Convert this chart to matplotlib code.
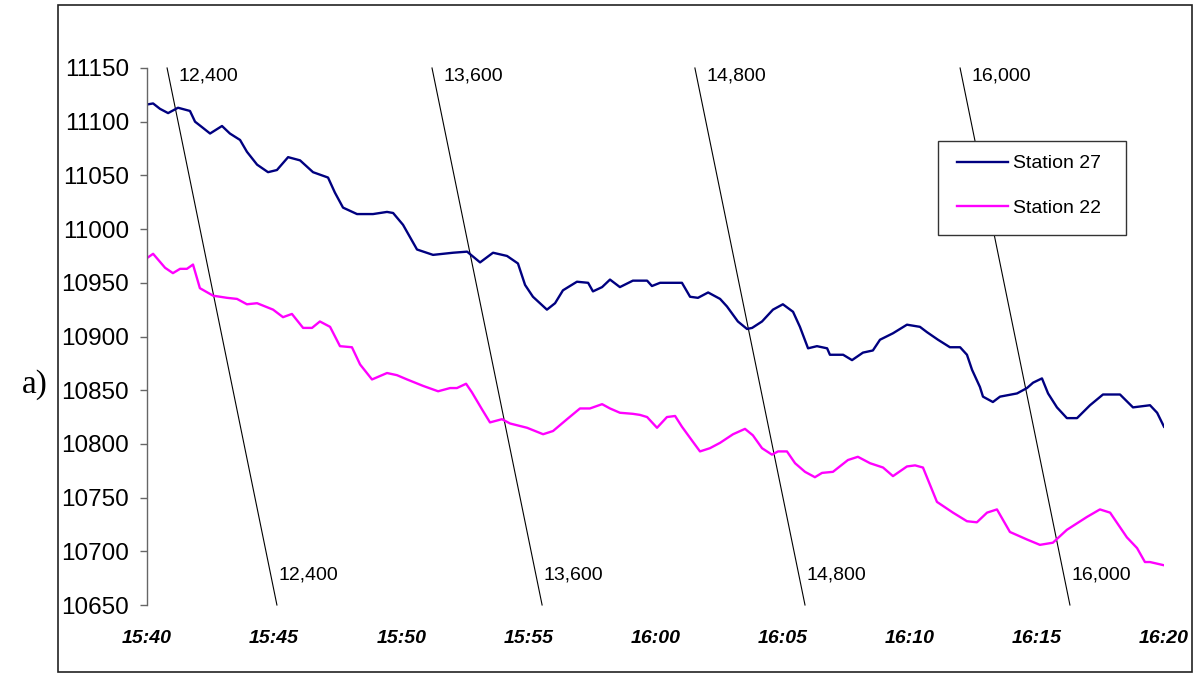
import matplotlib
matplotlib.use("Agg")
import matplotlib.pyplot as plt
from matplotlib.patches import Rectangle

plt.rcParams["font.family"] = ["Liberation Sans", "DejaVu Sans"]

# ── data (minutes after 15:40, pressure-like values) ─────────────────────────
ST27_MIN = [0.00, 0.24, 0.51, 0.83, 1.22, 1.69, 1.89, 2.16, 2.48, 2.95, 3.26, 3.66,
            3.93, 4.33, 4.76, 5.11, 5.55, 6.02, 6.53, 7.12, 7.39, 7.71, 8.26, 8.89,
            9.44, 9.68, 10.07, 10.62, 11.25, 12.04, 12.59, 13.10, 13.61, 14.16, 14.59,
            14.87, 15.18, 15.73, 16.05, 16.36, 16.91, 17.35, 17.54, 17.90, 18.21, 18.60,
            19.11, 19.67, 19.86, 20.18, 20.57, 21.04, 21.36, 21.67, 22.07, 22.54, 22.81,
            23.24, 23.60, 23.80, 24.19, 24.62, 25.01, 25.41, 25.68, 26.00, 26.35, 26.75,
            26.86, 27.38, 27.73, 28.16, 28.55, 28.83, 29.34, 29.89, 30.40, 30.68, 31.11,
            31.58, 31.98, 32.25, 32.45, 32.76, 32.88, 33.27, 33.55, 34.22, 34.61, 34.85,
            35.20, 35.44, 35.79, 36.18, 36.58, 37.09, 37.60, 38.27, 38.78, 39.45, 39.73,
            40.00]
ST27_VAL = [11116, 11117, 11112, 11108, 11113, 11110, 11100, 11095, 11089, 11096, 11089,
            11083, 11072, 11060, 11053, 11055, 11067, 11064, 11053, 11048, 11034, 11020,
            11014, 11014, 11016, 11015, 11004, 10981, 10976, 10978, 10979, 10969, 10978,
            10975, 10968, 10948, 10937, 10925, 10931, 10943, 10951, 10950, 10942, 10946,
            10953, 10946, 10952, 10952, 10947, 10950, 10950, 10950, 10937, 10936, 10941,
            10935, 10928, 10914, 10907, 10908, 10914, 10925, 10930, 10923, 10909, 10889,
            10891, 10889, 10883, 10883, 10878, 10885, 10887, 10897, 10903, 10911, 10909,
            10904, 10897, 10890, 10890, 10883, 10869, 10853, 10844, 10839, 10844, 10847,
            10852, 10857, 10861, 10847, 10834, 10824, 10824, 10836, 10846, 10846, 10834,
            10836, 10829, 10816]

ST22_MIN = [0.00, 0.24, 0.71, 1.02, 1.30, 1.57, 1.81, 2.08, 2.60, 3.15, 3.54, 3.93, 4.33,
            4.96, 5.35, 5.70, 6.14, 6.49, 6.80, 7.20, 7.59, 8.06, 8.38, 8.85, 9.44, 9.83,
            10.23, 10.86, 11.45, 11.92, 12.19, 12.55, 12.78, 13.18, 13.49, 13.96, 14.28,
            14.95, 15.58, 15.97, 16.52, 17.03, 17.42, 17.90, 18.21, 18.60, 19.11, 19.39,
            19.67, 20.06, 20.45, 20.77, 21.04, 21.47, 21.75, 22.14, 22.54, 23.05, 23.52,
            23.83, 24.19, 24.58, 24.82, 25.17, 25.49, 25.88, 26.27, 26.55, 26.98, 27.57,
            27.96, 28.44, 28.95, 29.34, 29.89, 30.21, 30.52, 31.07, 31.70, 32.25, 32.64,
            33.04, 33.43, 33.94, 34.61, 35.12, 35.63, 36.18, 36.97, 37.48, 37.88, 38.54,
            38.94, 39.25, 39.45, 40.00]
ST22_VAL = [10973, 10977, 10964, 10959, 10963, 10963, 10967, 10945, 10938, 10936, 10935,
            10930, 10931, 10925, 10918, 10921, 10908, 10908, 10914, 10909, 10891, 10890,
            10874, 10860, 10866, 10864, 10860, 10854, 10849, 10852, 10852, 10856, 10848,
            10832, 10820, 10823, 10819, 10815, 10809, 10812, 10823, 10833, 10833, 10837,
            10833, 10829, 10828, 10827, 10825, 10815, 10825, 10826, 10816, 10802, 10793,
            10796, 10801, 10809, 10814, 10808, 10796, 10790, 10793, 10793, 10782, 10774,
            10769, 10773, 10774, 10785, 10788, 10782, 10778, 10770, 10779, 10780, 10778,
            10746, 10736, 10728, 10727, 10736, 10739, 10718, 10711, 10706, 10708, 10720,
            10732, 10739, 10736, 10713, 10703, 10690, 10690, 10687]

# slanted reference lines: position (minutes) at top (11150) and bottom (10650)
REF_LABELS = ["12,400", "13,600", "14,800", "16,000"]
REF_TOP_MIN = [0.79, 11.21, 21.55, 31.98]
REF_BOT_MIN = [5.11, 15.54, 25.88, 36.30]

TICK_MIN = [0, 5, 10, 15, 20, 25, 30, 35, 40]
TICK_LABELS = ["15:40", "15:45", "15:50", "15:55", "16:00", "16:05", "16:10", "16:15", "16:20"]
Y_TICKS = [10650, 10700, 10750, 10800, 10850, 10900, 10950, 11000, 11050, 11100, 11150]
Y_MIN, Y_MAX = 10650, 11150

# ── figure ───────────────────────────────────────────────────────────────────
W, H = 1195, 675
fig = plt.figure(figsize=(W / 100, H / 100), dpi=100)
ax = fig.add_axes([147 / W, 1 - 605 / H, (1164 - 147) / W, (605 - 68) / H])

# outer frame round the whole chart
fig.patches.append(Rectangle((58 / W, 1 - 672 / H), (1192 - 58) / W, (672 - 5) / H,
                             transform=fig.transFigure, fill=False, edgecolor="#222222",
                             linewidth=1.2))

for lab, t0, t1 in zip(REF_LABELS, REF_TOP_MIN, REF_BOT_MIN):
    ax.plot([t0, t1], [Y_MAX, Y_MIN], color="black", lw=0.8, clip_on=False)
    ax.text(t0 + 0.45, Y_MAX - 7, lab, fontsize=14, ha="left", va="center")
    ax.text(t1 + 0.05, Y_MIN + 28, lab, fontsize=14, ha="left", va="center")

ax.plot(ST27_MIN, ST27_VAL, color="#000080", lw=1.7, label="Station 27")
ax.plot(ST22_MIN, ST22_VAL, color="#FF00FF", lw=1.7, label="Station 22")

ax.set_xlim(0, 40)
ax.set_ylim(Y_MIN, Y_MAX)
ax.set_yticks(Y_TICKS)
ax.set_xticks(TICK_MIN)
ax.set_xticklabels(TICK_LABELS, fontsize=14, fontweight="bold", fontstyle="italic")
ax.tick_params(axis="x", length=0, pad=18)
ax.tick_params(axis="y", length=5, width=1.0, color="#666666", pad=8, labelsize=17.5)
for side in ("top", "right", "bottom"):
    ax.spines[side].set_visible(False)
ax.spines["left"].set_color("#666666")
ax.spines["left"].set_linewidth(1.0)

# legend: white box (hides the slanted line behind it), entries drawn on top
ax.add_patch(Rectangle((938 / W, 1 - 235 / H), (1126 - 938) / W, (235 - 141) / H,
                       transform=fig.transFigure, facecolor="white", edgecolor="#333333",
                       linewidth=1.0, zorder=4, clip_on=False))
leg = ax.legend(loc="center left", bbox_to_anchor=(957 / W, 1 - 186 / H),
                bbox_transform=fig.transFigure, fontsize=14, frameon=False,
                handlelength=2.6, handletextpad=0.3, labelspacing=1.4,
                borderpad=0, borderaxespad=0)
leg.set_zorder(6)

fig.text(35 / W, 1 - 385 / H, "a)", fontsize=24, ha="center", va="center",
         family=["Liberation Serif", "DejaVu Serif"])

fig.savefig("out.png", dpi=100)
